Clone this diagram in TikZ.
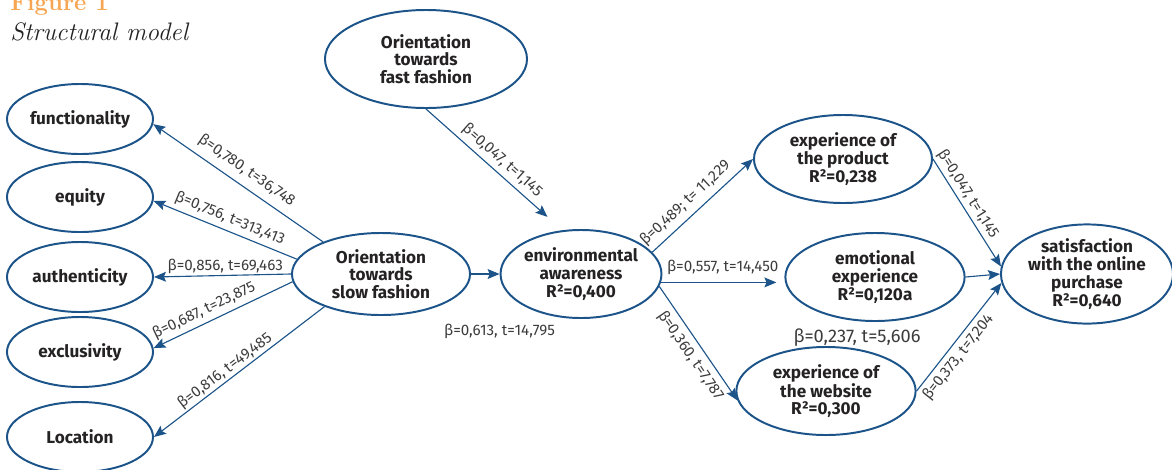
\documentclass[tikz,border=0pt]{standalone}
\usepackage{fontspec}
\setsansfont{Fira Sans}
\usepackage{tikz}
\usetikzlibrary{shapes.geometric, arrows.meta, positioning}
\usepackage{xcolor}
\definecolor{pathblue}{RGB}{28,84,138}
\definecolor{titleorange}{RGB}{246,166,82}
\definecolor{textgray}{RGB}{36,34,34}
\definecolor{coefgray}{RGB}{60,60,60}

\begin{document}
\begin{tikzpicture}[x=0.025cm, y=-0.025cm,
    construct/.style={ellipse, draw=pathblue, line width=1.4pt, inner sep=0pt, align=center, text=textgray, font=\sffamily\bfseries\fontsize{12.2}{12.6}\selectfont},
    link/.style={draw=pathblue, line width=0.8pt, -{Stealth[length=8.5pt, width=7pt, inset=1.5pt]}},
    coef/.style={text=coefgray, inner sep=1pt, font=\sffamily\fontsize{10.8}{12}\selectfont}]
    \useasboundingbox (0,0) rectangle (1172,469);
    \node[anchor=base west, text=titleorange, font=\bfseries\fontsize{17}{20}\selectfont, inner sep=0pt] (figno) at (10,10) {Figure 1};
    \node[anchor=base west, text=textgray, font=\itshape\fontsize{18}{20}\selectfont, inner sep=0pt] (figtitle) at (10,40) {Structural model};
    \node[construct, minimum width=3.65cm, minimum height=1.75cm] (func) at (80,119) {functionality};
    \node[construct, minimum width=3.65cm, minimum height=1.75cm] (eq) at (80,197) {equity};
    \node[construct, minimum width=3.65cm, minimum height=1.75cm] (auth) at (80,277) {authenticity};
    \node[construct, minimum width=3.65cm, minimum height=1.75cm] (excl) at (80,352) {exclusivity};
    \node[construct, minimum width=3.65cm, minimum height=1.75cm] (loc) at (80,437) {Location};
    \node[construct, minimum width=5.05cm, minimum height=2.45cm] (fast) at (426,59) {Orientation\\towards\\fast fashion};
    \node[construct, minimum width=4.45cm, minimum height=2.05cm] (slow) at (381,274) {Orientation\\towards\\slow fashion};
    \node[construct, minimum width=3.95cm, minimum height=2.2cm] (env) at (581,274) {environmental\\awareness\\R²=0,400};
    \node[construct, minimum width=4.45cm, minimum height=2.2cm] (prod) at (843,159) {experience of\\the product\\R²=0,238};
    \node[construct, minimum width=4.48cm, minimum height=2.2cm] (emo) at (875,277) {emotional\\experience\\R²=0,120a};
    \node[construct, minimum width=4.48cm, minimum height=2.2cm] (web) at (826,391) {experience of\\the website\\R²=0,300};
    \node[construct, minimum width=4.3cm, minimum height=2.38cm] (sat) at (1087,274) {satisfaction\\with the online\\purchase\\R²=0,640};
    \draw[link] (slow.151) -- (func.-4) node[coef, sloped, above=4pt, pos=0.5] {β=0,780, t=36,748};
    \draw[link] (slow.170) -- (eq.-3) node[coef, sloped, above=2pt, pos=0.5] {β=0,756, t=313,413};
    \draw[link] (slow.west) -- (auth.east) node[coef, above, pos=0.48] {β=0,856, t=69,463};
    \draw[link] (slow.185) -- (excl.3) node[coef, sloped, above=2pt, pos=0.6] {β=0,687, t=23,875};
    \draw[link] (slow.210) -- (loc.east) node[coef, sloped, above, pos=0.55] {β=0,816, t=49,485};
    \draw[link] (slow.east) -- (env.west) node[coef, below=1.2cm] {β=0,613, t=14,795};
    \draw[link, shorten >=0.5cm] (fast.south) -- (env.113) node[coef, sloped, above=2pt, pos=0.5] {β=0,047, t=1,145};
    \draw[link] (env.17) -- (prod.west) node[coef, sloped, above=3pt, pos=0.42] {β=0,489; t= 11,229};
    \draw[link, shorten >=0.2cm] (env.-6) -- (env.-6 -| emo.west) node[coef, above=4pt, pos=0.5] {β=0,557, t=14,450};
    \draw[link] (env.-9) -- (web.186) node[coef, sloped, below=3pt, pos=0.54] {β=0,360, t=7,787};
    \draw[link] (prod.east) -- (sat.175) node[coef, sloped, above=1pt, pos=0.38] {β=0,047, t=1,145};
    \draw[link] (emo.east) -- (sat.west);
    \draw[link] (web.east) -- (sat.186) node[coef, sloped, below=2pt, pos=0.38] {β=0,373, t=7,204};
    \node[coef, font=\sffamily\fontsize{13}{14}\selectfont] (emocoef) at (857,338) {β=0,237, t=5,606};
\end{tikzpicture}
\end{document}
